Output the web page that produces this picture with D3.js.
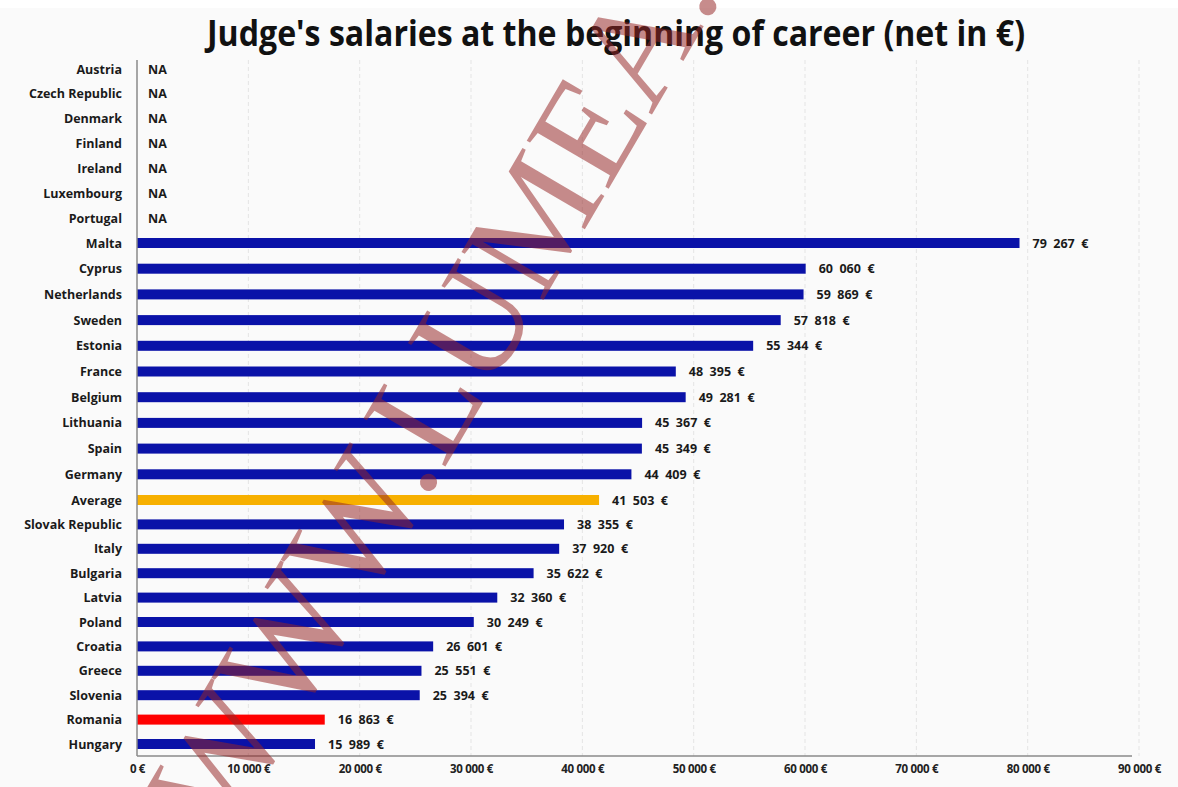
<!DOCTYPE html>
<html>
<head>
<meta charset="utf-8">
<script src="https://cdn.jsdelivr.net/npm/d3@7"></script>
<style>
  body { margin: 0; background: #ffffff; }
  svg { display: block; }
  text { font-family: "Open Sans", "Noto Sans", sans-serif; }
</style>
</head>
<body>
<div id="chart"></div>
<script>
// Judge's salaries at the beginning of career (net in €)
let countries = ["Austria", "Czech Republic", "Denmark", "Finland", "Ireland", "Luxembourg", "Portugal",
    "Malta", "Cyprus", "Netherlands", "Sweden", "Estonia", "France", "Belgium", "Lithuania", "Spain",
    "Germany", "Average", "Slovak Republic", "Italy", "Bulgaria", "Latvia", "Poland", "Croatia",
    "Greece", "Slovenia", "Romania", "Hungary"];
let salaries = [null, null, null, null, null, null, null,
    79267, 60060, 59869, 57818, 55344, 48395, 49281, 45367, 45349,
    44409, 41503, 38355, 37920, 35622, 32360, 30249, 26601,
    25551, 25394, 16863, 15989];
let xTicks = [0, 10000, 20000, 30000, 40000, 50000, 60000, 70000, 80000, 90000];
let titleText = "Judge's salaries at the beginning of career (net in €)";
let watermarkText = "WWW.LUMEA.";

let width = 1178, height = 787;

let svg = d3.select("#chart").append("svg")
    .attr("width", width)
    .attr("height", height);

// light panel behind the chart
svg.append("rect")
    .attr("x", 0).attr("y", 8)
    .attr("width", width).attr("height", height - 8)
    .attr("fill", "#fafafa");

let x = d3.scaleLinear()
    .domain([0, 90000])
    .range([137, 1139]);

// rows are not quite evenly spaced in the original (pasted together), so map row index piecewise
let rowY = d3.scaleLinear()
    .domain([0, 7, 17, 27])
    .range([69, 243, 500, 744]);
let y = name => rowY(countries.indexOf(name));

let data = countries.map((c, i) => ({name: c, value: salaries[i]}));

// title
svg.append("text")
    .attr("x", 616)
    .attr("y", 46)
    .attr("text-anchor", "middle")
    .attr("font-size", 35)
    .attr("font-weight", "bold")
    .attr("fill", "#111")
    .attr("textLength", 818)
    .attr("lengthAdjust", "spacingAndGlyphs")
    .text(titleText);

// gridlines
svg.append("g")
    .selectAll("line")
    .data(xTicks.slice(1))
    .enter().append("line")
    .attr("x1", d => x(d)).attr("x2", d => x(d))
    .attr("y1", 60).attr("y2", 756)
    .attr("stroke", "#e4e4e4")
    .attr("stroke-dasharray", "4,3");

// bars
let colorOf = d => d.name === "Average" ? "#f7b000" : (d.name === "Romania" ? "#ff0000" : "#0a12a8");

svg.append("g")
    .selectAll("rect")
    .data(data.filter(d => d.value !== null))
    .enter().append("rect")
    .attr("x", x(0))
    .attr("y", d => y(d.name) - 5)
    .attr("width", d => x(d.value) - x(0))
    .attr("height", 10)
    .attr("fill", colorOf);

// value labels
let fmt = v => Math.floor(v / 1000) + "  " + String(v % 1000).padStart(3, "0") + "  €";

svg.append("g")
    .selectAll("text")
    .data(data)
    .enter().append("text")
    .attr("x", d => d.value === null ? 148 : x(d.value) + 13)
    .attr("y", d => y(d.name) + 4.5)
    .attr("font-size", 12.5)
    .attr("font-weight", "bold")
    .attr("fill", "#1a1a1a")
    .attr("xml:space", "preserve")
    .style("white-space", "pre")
    .text(d => d.value === null ? "NA" : fmt(d.value));

// country labels
svg.append("g")
    .selectAll("text")
    .data(countries)
    .enter().append("text")
    .attr("x", 122)
    .attr("y", d => y(d) + 4.5)
    .attr("text-anchor", "end")
    .attr("font-size", 12.5)
    .attr("font-weight", "bold")
    .attr("fill", "#1a1a1a")
    .text(d => d);

// left axis line
svg.append("line")
    .attr("x1", x(0)).attr("x2", x(0))
    .attr("y1", 60).attr("y2", 756)
    .attr("stroke", "#8a8a8a")
    .attr("stroke-width", 1.5);

// bottom axis
let xAxis = d3.axisBottom(x)
    .tickValues(xTicks)
    .tickSize(0)
    .tickPadding(9)
    .tickFormat(d => d3.format(",")(d).replace(/,/g, " ") + " €");

let axisG = svg.append("g")
    .attr("transform", "translate(0,756)")
    .call(xAxis);

axisG.select(".domain")
    .attr("stroke", "#8a8a8a")
    .attr("stroke-width", 1.5)
    .attr("d", `M${x(0)},0H1132`);

axisG.selectAll("text")
    .attr("font-family", "'Open Sans', sans-serif")
    .attr("font-size", 11.5)
    .attr("font-weight", "bold")
    .attr("letter-spacing", -0.3)
    .attr("fill", "#222");

// watermark
svg.append("text")
    .attr("transform", "translate(224,844) rotate(-59.6)")
    .attr("font-size", 145)
    .attr("fill", "rgb(150,38,38)")
    .attr("fill-opacity", 0.53)
    .style("font-family", "'Liberation Serif', serif")
    .text(watermarkText);
</script>
</body>
</html>
